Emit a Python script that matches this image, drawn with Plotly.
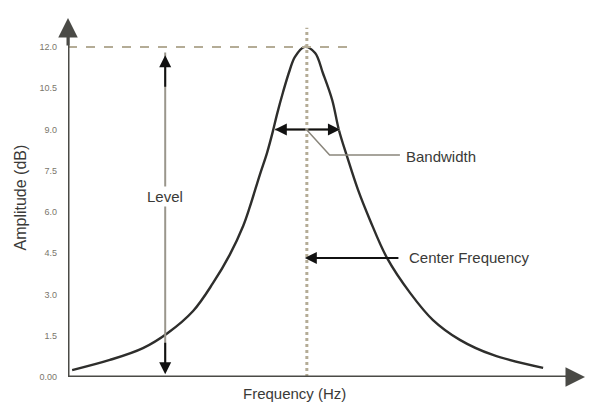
import plotly.graph_objects as go

# Resonance curve (frequency in arbitrary units, amplitude in dB)
freq = [0.8, 8.1, 14.5, 19.3, 24.2, 28.0, 31.3, 33.9, 35.2, 37.1, 38.5, 39.6, 40.4, 41.6, 42.9, 43.9, 45.8,
        47.8, 49.3, 51.1, 52.4, 54.0, 56.1, 58.4, 61.7, 66.2, 70.6, 75.8, 82.2, 91.9]
amp = [0.25, 0.62, 1.05, 1.6, 2.4, 3.4, 4.45, 5.5, 6.2, 7.35, 8.15, 8.91, 9.53, 10.36, 11.16, 11.64, 12.0,
       11.78, 11.05, 10.07, 8.98, 8.0, 6.8, 5.71, 4.33, 3.05, 2.07, 1.35, 0.8, 0.33]

tick_vals = [0, 1.5, 3.0, 4.5, 6.0, 7.5, 9.0, 10.5, 12.0]
tick_text = ["0.00", "1.5", "3.0", "4.5", "6.0", "7.5", "9.0", "10.5", "12.0"]

center_freq = 46.2
peak_level = 12.0
bw_level = 9.0
bw_left, bw_right = 40.0, 52.6
level_x = 18.8
x_max, y_max = 100, 13.05

FONT = "Liberation Sans, Arial, sans-serif"
TXT = "#3a3a38"
DOT = "#b4ac96"
AX = "#4a4a46"

fig = go.Figure()
fig.add_trace(go.Scatter(x=freq, y=amp, mode="lines",
                         line=dict(color="#2e2e2c", width=2.4, shape="spline", smoothing=1.0),
                         hoverinfo="skip", showlegend=False))

shapes = [
    dict(type="line", x0=0, x1=54.2, y0=peak_level, y1=peak_level, line=dict(color=DOT, width=2, dash="dash")),
    dict(type="line", x0=center_freq, x1=center_freq, y0=0, y1=12.7, line=dict(color=DOT, width=3, dash="dot")),
    dict(type="line", x0=level_x, x1=level_x, y0=0.3, y1=11.8, line=dict(color="#9a968c", width=2)),
    dict(type="line", x0=bw_left, x1=bw_right, y0=bw_level, y1=bw_level, line=dict(color="#9a968c", width=2)),
    dict(type="path", path="M 46.2 8.98 L 50.6 8.07 L 64.2 8.07", line=dict(color="#8a867c", width=1.5)),
    dict(type="line", x0=0, x1=0, y0=0, y1=12.6, line=dict(color=AX, width=3)),
    dict(type="line", x0=0, x1=97.5, y0=0, y1=0, line=dict(color=AX, width=3)),
]

def arrow(x, y, ax, ay, color="black", size=1.4, width=2):
    return dict(x=x, y=y, ax=ax, ay=ay, xref="x", yref="y", axref="x", ayref="y", text="",
                showarrow=True, arrowhead=2, arrowsize=size, arrowwidth=width, arrowcolor=color)

annotations = [
    arrow(0, y_max, 0, 12.0, color=AX, size=1.3, width=3),
    arrow(x_max, 0, 96, 0, color=AX, size=1.3, width=3),
    arrow(level_x, 11.7, level_x, 10.5, color="#111", size=1.2, width=2),
    arrow(level_x, 0.1, level_x, 1.3, color="#111", size=1.2, width=2),
    arrow(bw_left, bw_level, center_freq, bw_level, color="#111", size=1.2, width=2),
    arrow(bw_right, bw_level, center_freq, bw_level, color="#111", size=1.2, width=2),
    arrow(center_freq - 0.4, 4.33, 64.2, 4.33, color="#111", size=1.2, width=2),
    dict(x=level_x, y=6.55, text="Level", showarrow=False, bgcolor="white",
         font=dict(family=FONT, size=15, color=TXT), xref="x", yref="y"),
    dict(x=65.0, y=8.0, text="Bandwidth", showarrow=False, xanchor="left",
         font=dict(family=FONT, size=15, color=TXT), xref="x", yref="y"),
    dict(x=65.5, y=4.33, text="Center Frequency", showarrow=False, xanchor="left",
         font=dict(family=FONT, size=15, color=TXT), xref="x", yref="y"),
    dict(x=0, y=0.5, xref="paper", yref="paper", xshift=-48, xanchor="center", yanchor="middle",
         text="Amplitude (dB)", textangle=-90,
         showarrow=False, font=dict(family=FONT, size=16, color=TXT)),
    dict(x=0.439, y=0, xref="paper", yref="paper", yshift=-16, xanchor="center", yanchor="middle",
         text="Frequency (Hz)", showarrow=False, font=dict(family=FONT, size=15, color=TXT)),
]

# page body has an 8px margin, so the figure is 8px smaller and its margins shifted
fig.update_layout(
    width=590, height=403,
    margin=dict(l=60, r=13, t=10, b=34),
    paper_bgcolor="white", plot_bgcolor="white",
    shapes=shapes, annotations=annotations,
    xaxis=dict(range=[0, x_max], showgrid=False, zeroline=False, showticklabels=False, ticks="",
               automargin=False, fixedrange=True),
    yaxis=dict(range=[0, y_max], showgrid=False, zeroline=False, tickvals=tick_vals, ticktext=tick_text,
               tickfont=dict(family=FONT, size=9, color="#7a766c"), ticks="", ticklabelstandoff=10,
               automargin=False, fixedrange=True),
)

fig.write_html("out.html")
